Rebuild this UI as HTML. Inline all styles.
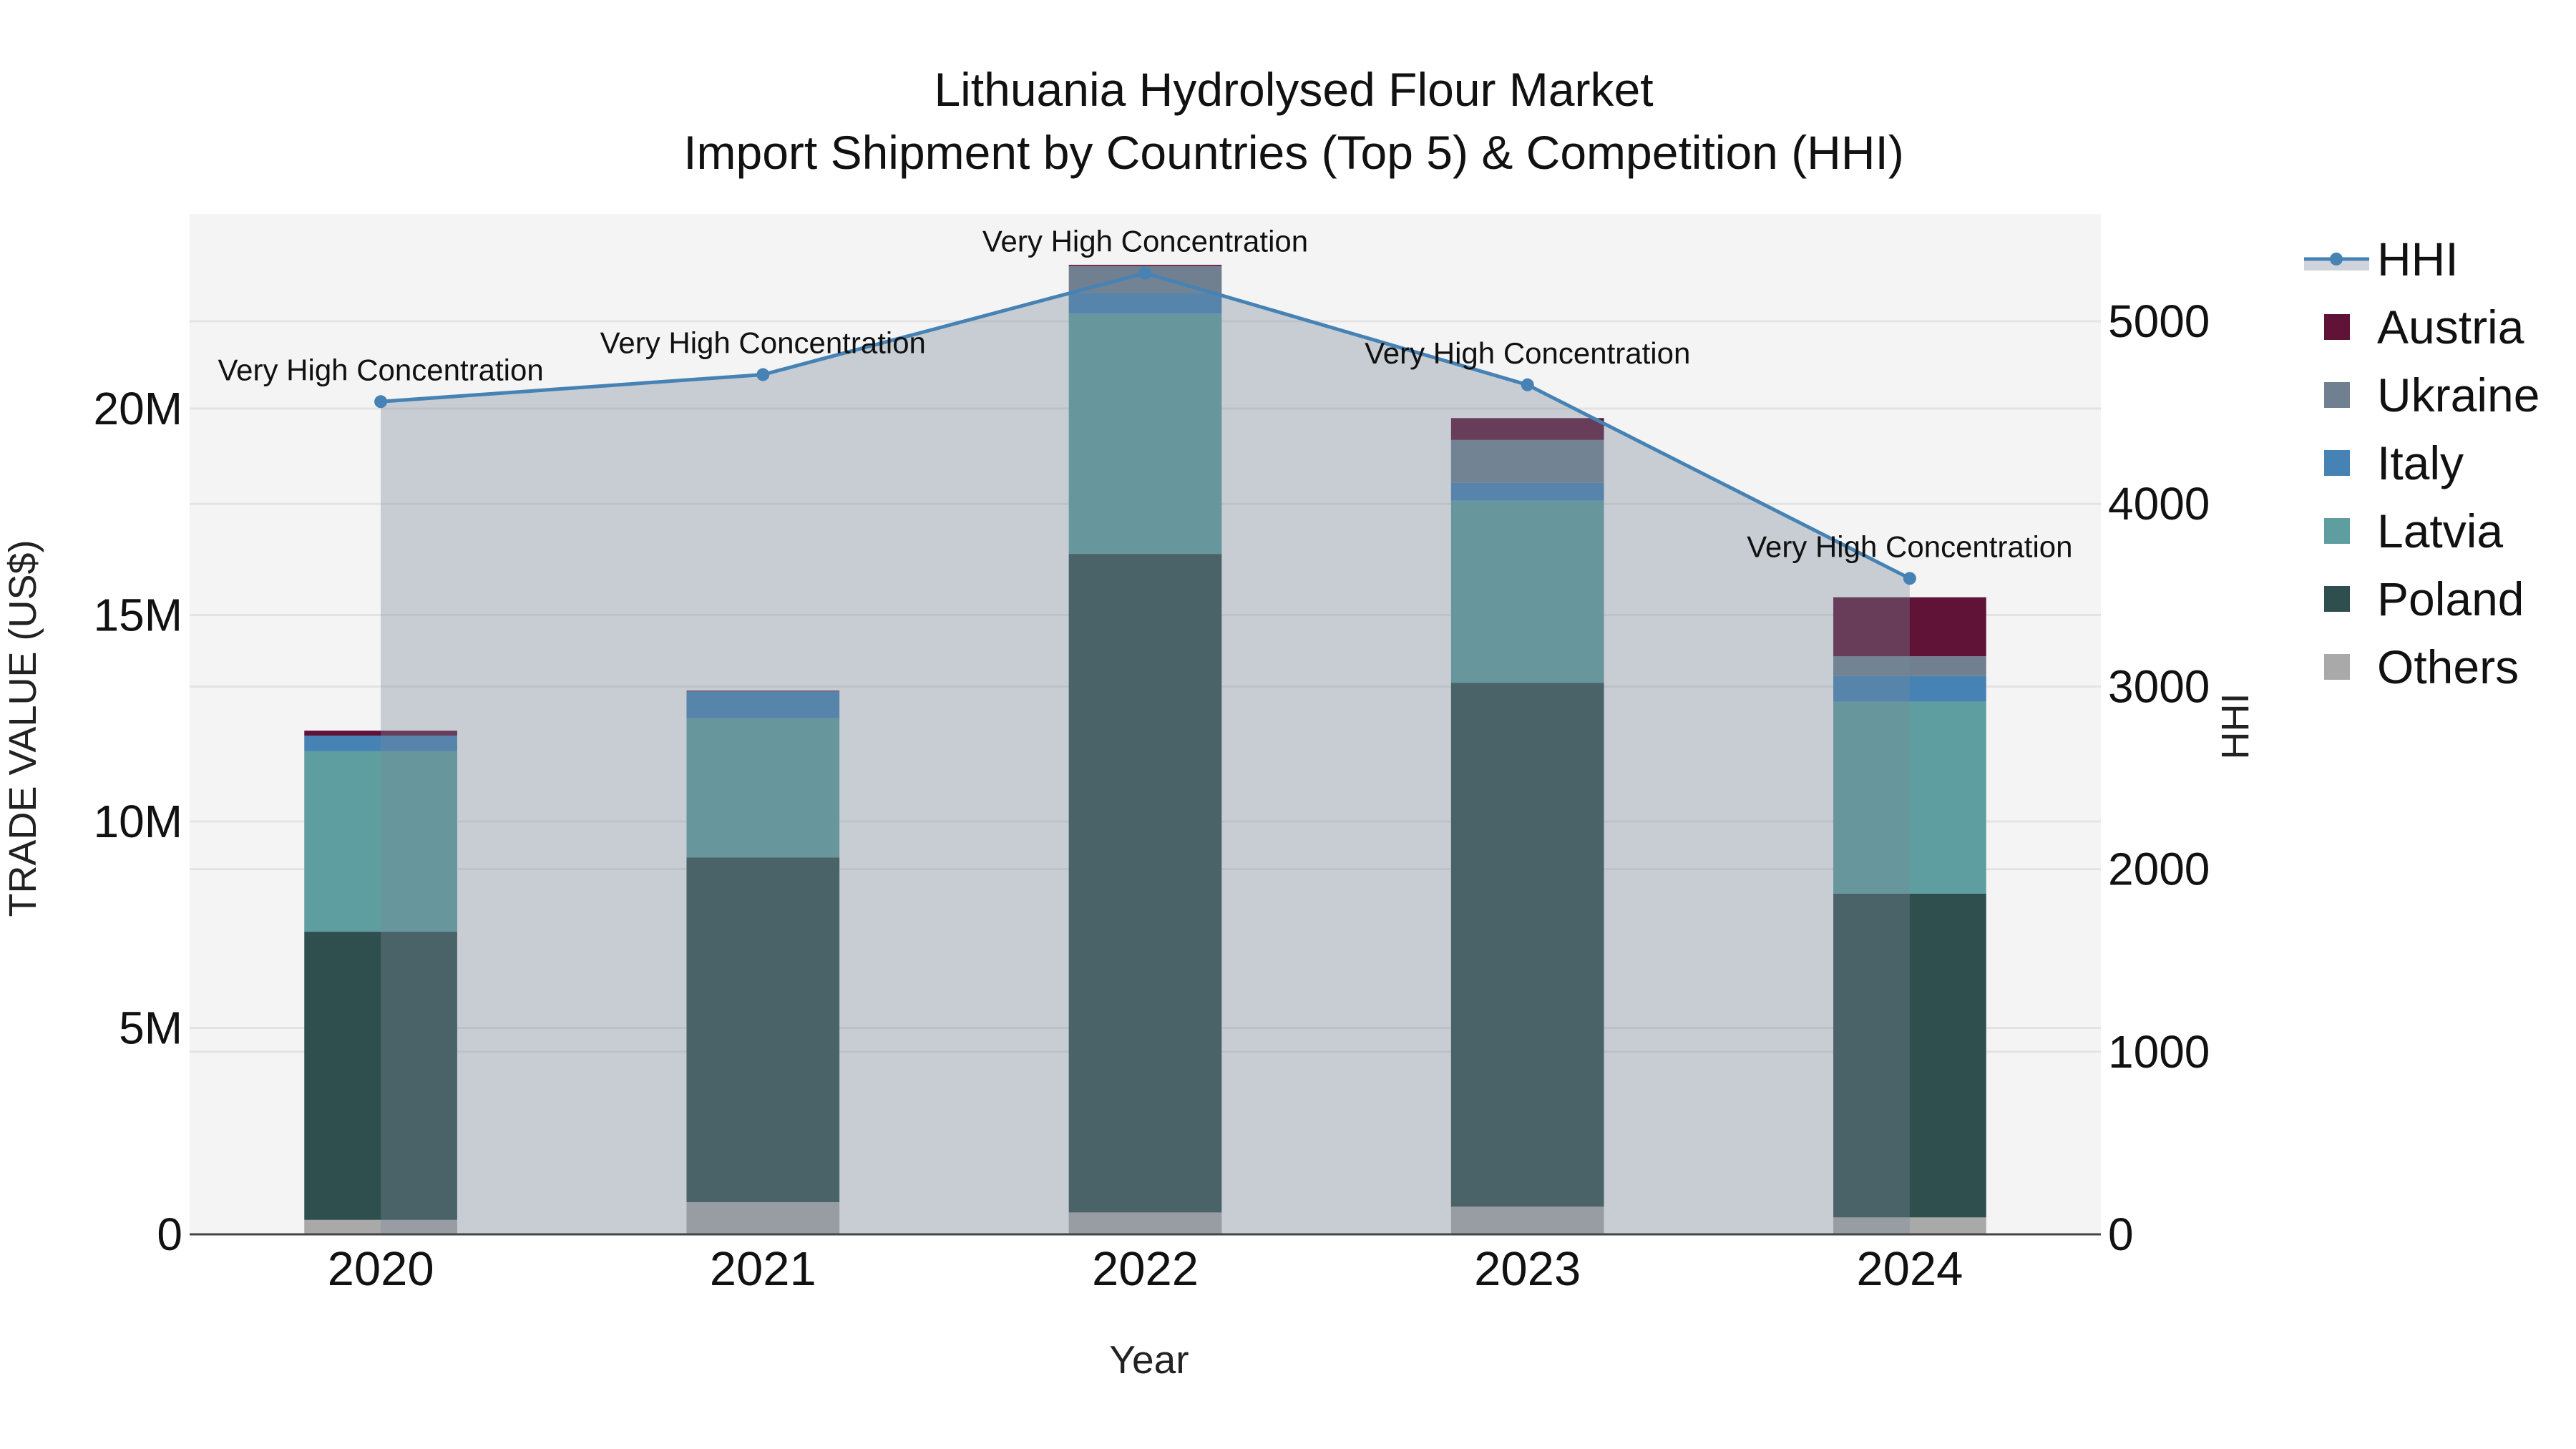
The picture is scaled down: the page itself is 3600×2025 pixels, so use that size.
<!DOCTYPE html>
<html><head><meta charset="utf-8"><style>
html,body{margin:0;padding:0;background:#fff;}
svg{display:block;font-family:"Liberation Sans",Arial,sans-serif;}
</style></head><body>
<svg id="chart" width="3600" height="2025" viewBox="0 0 3600 2025">
<rect x="0" y="0" width="3600" height="2025" fill="#fff"/>
<text x="1808" y="148" font-size="66" text-anchor="middle" fill="#111">Lithuania Hydrolysed Flour Market</text>
<text x="1808" y="236" font-size="66" text-anchor="middle" fill="#111">Import Shipment by Countries (Top 5) &amp; Competition (HHI)</text>
<rect x="265" y="299" width="2671" height="1426" fill="#f4f4f4"/>
<g id="grid"></g>
<g id="bars"></g>
<g id="hhi"></g>
<line x1="265" y1="1725" x2="2936" y2="1725" stroke="#444" stroke-width="3"/>
<g id="axes"></g>
<text x="1606" y="1919" font-size="55" text-anchor="middle" fill="#222">Year</text>
<text transform="translate(50,1018) rotate(-90)" font-size="54" text-anchor="middle" fill="#222">TRADE VALUE (US$)</text>
<text transform="translate(3142,1015) rotate(-90)" font-size="54" text-anchor="middle" fill="#222">HHI</text>
<g id="legend"></g>
</svg>
<script>
const years = ["2020","2021","2022","2023","2024"];
const others = [0.35, 0.78, 0.53, 0.67, 0.41];
const poland = [6.98, 8.35, 15.95, 12.69, 7.84];
const latvia = [4.37, 3.37, 5.82, 4.41, 4.65];
const italy = [0.38, 0.65, 0.5, 0.43, 0.62];
const ukraine = [0.0, 0.0, 0.65, 1.04, 0.48];
const austria = [0.12, 0.02, 0.03, 0.53, 1.43];
const hhi = [4560, 4708, 5264, 4652, 3592];
const hhiLabels = ["Very High Concentration","Very High Concentration","Very High Concentration","Very High Concentration","Very High Concentration"];
const yTicks = [0, 5, 10, 15, 20];
const yTickLabels = ["0","5M","10M","15M","20M"];
const y2Ticks = [0, 1000, 2000, 3000, 4000, 5000];
const seriesNames = ["Others","Poland","Latvia","Italy","Ukraine","Austria"];

const NS = "http://www.w3.org/2000/svg";
const L = 265, R = 2936, T = 299, B = 1725;
const xS = i => L + (i + 0.5) * (R - L) / 5;
const yS = v => B - v * 57.7;
const y2S = v => B - v * 0.2552;
function mk(tag, attrs, parent){const e=document.createElementNS(NS,tag);for(const k in attrs)e.setAttribute(k,attrs[k]);parent.appendChild(e);return e;}

const grid = document.getElementById('grid');
yTicks.forEach(v=>{const l=mk('line',{x1:L,x2:R,y1:yS(v),y2:yS(v),stroke:'#e3e3e3','stroke-width':3},grid);

});
y2Ticks.forEach(v=>{const l=mk('line',{x1:L,x2:R,y1:y2S(v),y2:y2S(v),stroke:'#e3e3e3','stroke-width':3},grid);

});

const series = [others, poland, latvia, italy, ukraine, austria];
const colors = ["#a9a9a9","#2f4f4f","#5f9ea0","#4682b4","#708090","#601337"];
const bars = document.getElementById('bars');
const bw = 0.4 * (R - L) / 5;
years.forEach((yr,i)=>{
  let base = 0;
  series.forEach((s,k)=>{
    const v = s[i];
    const r = mk('rect',{x:xS(i)-bw/2,y:yS(base+v),width:bw,height:Math.max(0,yS(base)-yS(base+v)),fill:colors[k]},bars);
    
    
    base += v;
  });
});

const hg = document.getElementById('hhi');
let d = 'M'+xS(0)+','+B;
hhi.forEach((v,i)=>{d+=' L'+xS(i)+','+y2S(v);});
d += ' L'+xS(hhi.length-1)+','+B+' Z';
const area = mk('path',{d:d,fill:'rgba(119,136,153,0.36)'},hg);


const pts = hhi.map((v,i)=>xS(i)+','+y2S(v)).join(' ');
const line = mk('polyline',{points:pts,fill:'none',stroke:'#4682b4','stroke-width':5},hg);


hhi.forEach((v,i)=>{
  const c = mk('circle',{cx:xS(i),cy:y2S(v),r:9,fill:'#4682b4'},hg);
  
  
  const t = mk('text',{x:xS(i),y:y2S(v)-30,'font-size':42,'text-anchor':'middle',fill:'#111'},hg);
  t.textContent = hhiLabels[i];
  
  
});

const ax = document.getElementById('axes');
yTicks.forEach((v,i)=>{const t=mk('text',{x:255,y:yS(v)+22,'font-size':64,'text-anchor':'end',fill:'#111'},ax);t.textContent=yTickLabels[i];

});
y2Ticks.forEach(v=>{const t=mk('text',{x:2946,y:y2S(v)+22,'font-size':64,fill:'#111'},ax);t.textContent=String(v);

});
years.forEach((yr,i)=>{const t=mk('text',{x:xS(i),y:1796,'font-size':67,'text-anchor':'middle',fill:'#111'},ax);t.textContent=yr;

});

const lg = document.getElementById('legend');
const hl = mk('rect',{x:3220,y:364,width:91,height:14,fill:'rgba(119,136,153,0.36)'},lg);


const hll = mk('line',{x1:3220,x2:3311,y1:362,y2:362,stroke:'#4682b4','stroke-width':5},lg);


const hlc = mk('circle',{cx:3265,cy:362,r:9,fill:'#4682b4'},lg);


const ht = mk('text',{x:3322,y:385,'font-size':66,fill:'#111'},lg);ht.textContent='HHI';


const order=[5,4,3,2,1,0];
order.forEach((k,j)=>{
  const cy = 457 + j*95;
  const s = mk('rect',{x:3248,y:cy-18,width:36,height:36,fill:colors[k]},lg);
  
  
  const t = mk('text',{x:3322,y:cy+23,'font-size':66,fill:'#111'},lg);
  t.textContent = seriesNames[k];
  
  
});
</script>
</body></html>
